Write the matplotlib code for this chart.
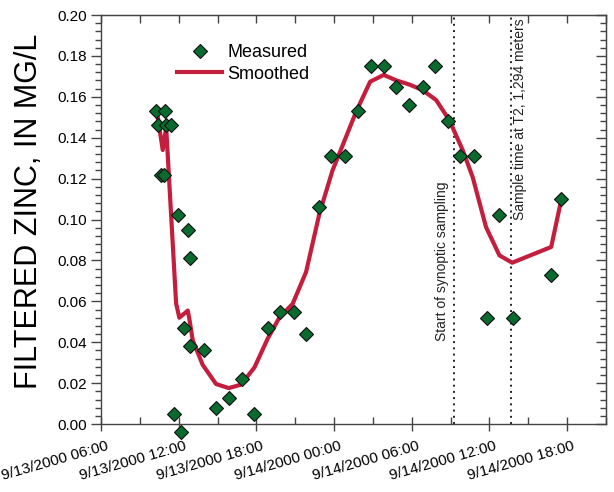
import matplotlib
matplotlib.use("Agg")
import matplotlib.pyplot as plt
import matplotlib.dates as mdates
from matplotlib.ticker import MultipleLocator, FuncFormatter, NullFormatter
from matplotlib.transforms import ScaledTranslation
import pandas as pd

plt.rcParams["font.family"] = ["Liberation Sans", "DejaVu Sans"]

# Filtered zinc samples (mg/L)
measured_time = [
    "2000-09-13 10:17", "2000-09-13 10:26", "2000-09-13 10:38", "2000-09-13 10:54",
    "2000-09-13 10:58", "2000-09-13 11:02", "2000-09-13 11:25", "2000-09-13 11:40",
    "2000-09-13 11:59", "2000-09-13 12:11", "2000-09-13 12:23", "2000-09-13 12:41",
    "2000-09-13 12:53", "2000-09-13 12:54", "2000-09-13 13:59", "2000-09-13 14:53",
    "2000-09-13 15:52", "2000-09-13 16:52", "2000-09-13 17:51", "2000-09-13 18:52",
    "2000-09-13 19:49", "2000-09-13 20:53", "2000-09-13 21:52", "2000-09-13 22:50",
    "2000-09-13 23:46", "2000-09-14 00:50", "2000-09-14 01:50", "2000-09-14 02:50",
    "2000-09-14 03:50", "2000-09-14 04:49", "2000-09-14 05:49", "2000-09-14 06:50",
    "2000-09-14 07:49", "2000-09-14 08:46", "2000-09-14 09:45", "2000-09-14 10:47",
    "2000-09-14 11:49", "2000-09-14 12:46", "2000-09-14 13:47", "2000-09-14 16:46",
    "2000-09-14 17:32",
]
measured_zinc = [
    0.153, 0.146, 0.122, 0.122,
    0.153, 0.146, 0.146, 0.005,
    0.102, -0.004, 0.047, 0.095,
    0.038, 0.081, 0.036, 0.008,
    0.013, 0.022, 0.005, 0.047,
    0.055, 0.055, 0.044, 0.106,
    0.131, 0.131, 0.153, 0.175,
    0.175, 0.165, 0.156, 0.165,
    0.175, 0.148, 0.131, 0.131,
    0.052, 0.102, 0.052, 0.073,
    0.110,
]

# Smoothed concentration curve
smoothed_time = [
    "2000-09-13 10:18", "2000-09-13 10:46", "2000-09-13 11:02", "2000-09-13 11:48",
    "2000-09-13 12:03", "2000-09-13 12:42", "2000-09-13 12:50", "2000-09-13 13:05",
    "2000-09-13 13:51", "2000-09-13 14:53", "2000-09-13 15:52", "2000-09-13 16:49",
    "2000-09-13 17:51", "2000-09-13 18:52", "2000-09-13 19:47", "2000-09-13 20:48",
    "2000-09-13 21:50", "2000-09-13 22:52", "2000-09-13 23:53", "2000-09-14 00:50",
    "2000-09-14 01:42", "2000-09-14 02:47", "2000-09-14 03:50", "2000-09-14 04:49",
    "2000-09-14 05:49", "2000-09-14 06:50", "2000-09-14 07:53", "2000-09-14 08:54",
    "2000-09-14 09:56", "2000-09-14 10:42", "2000-09-14 11:44", "2000-09-14 12:46",
    "2000-09-14 13:45", "2000-09-14 16:46", "2000-09-14 17:32",
]
smoothed_zinc = [
    0.1535, 0.134, 0.145, 0.059,
    0.052, 0.0555, 0.051, 0.041,
    0.029, 0.0196, 0.0176, 0.0193,
    0.0277, 0.0417, 0.0522, 0.0588,
    0.0743, 0.1029, 0.1241, 0.139,
    0.1527, 0.1674, 0.1707, 0.168,
    0.166, 0.1633, 0.1584, 0.1486,
    0.1339, 0.1208, 0.0963, 0.0825,
    0.0789, 0.0866, 0.1094,
]

event_time = ["2000-09-14 09:17", "2000-09-14 13:42"]
event_label = ["Start of synoptic sampling", "Sample time at T2, 1,294 meters"]
event_label_y = [0.0408, 0.0996]

x_start, x_end = "2000-09-13 06:00", "2000-09-14 21:00"
last_label = "2000-09-14 18:00"

mt = pd.to_datetime(measured_time)
st = pd.to_datetime(smoothed_time)
et = pd.to_datetime(event_time)

fig = plt.figure(figsize=(6.14, 4.92), dpi=100)
ax = fig.add_axes([0.1645, 0.138, 0.8225, 0.8315])

green = "#0b6b2e"
red = "#c41e3e"
axis_color = "#444444"

line_h, = ax.plot(st, smoothed_zinc, color=red, lw=3.0, label="Smoothed", zorder=2)
pts_h, = ax.plot(mt, measured_zinc, ls="none", marker="D", ms=7, mfc=green,
                 mec="#111111", mew=0.8, label="Measured", zorder=3, clip_on=False)

# Event markers with rotated captions beside them
for t, lbl, y, dx in zip(et, event_label, event_label_y, [-12, 9]):
    ax.axvline(t, color="#222222", ls=(0, (1, 2.2)), lw=1.4, zorder=1)
    ax.text(t, y, lbl, rotation=90, ha="center", va="bottom", fontsize=10,
            color="#222222",
            transform=ax.transData + ScaledTranslation(dx / 100, 0, fig.dpi_scale_trans))

ax.set_xlim(pd.Timestamp(x_start), pd.Timestamp(x_end))
ax.set_ylim(0, 0.20)

ax.xaxis.set_major_locator(mdates.HourLocator(byhour=[0, 6, 12, 18]))
ax.xaxis.set_minor_locator(mdates.HourLocator(byhour=[3, 9, 15, 21]))
last_num = mdates.date2num(pd.Timestamp(last_label))


def fmt_date(x, pos):
    if x > last_num + 1e-6:
        return ""
    d = mdates.num2date(x)
    return f"{d.month}/{d.day}/{d.year} {d:%H:%M}"


ax.xaxis.set_major_formatter(FuncFormatter(fmt_date))
ax.yaxis.set_major_locator(MultipleLocator(0.02))
ax.yaxis.set_minor_locator(MultipleLocator(0.004))
ax.yaxis.set_major_formatter(FuncFormatter(lambda v, p: f"{v:.2f}"))

for s in ax.spines.values():
    s.set_color(axis_color)
    s.set_linewidth(1.0)

ax.tick_params(axis="x", which="major", direction="inout", length=10, width=1,
               color=axis_color, top=False, labelsize=11, pad=2)
ax.tick_params(axis="x", which="minor", direction="in", length=5, width=1,
               color=axis_color, top=False)
ax.tick_params(axis="y", which="major", direction="out", length=7, width=1,
               color=axis_color, labelsize=11, pad=3, right=False)
ax.tick_params(axis="y", which="minor", direction="out", length=4, width=1,
               color=axis_color, right=False)

# Inward ticks along the top and right frame
top = ax.secondary_xaxis("top")
top.xaxis.set_major_locator(mdates.HourLocator(byhour=[0, 6, 12, 18]))
top.xaxis.set_minor_locator(mdates.HourLocator(byhour=[3, 9, 15, 21]))
top.xaxis.set_major_formatter(NullFormatter())
top.tick_params(which="major", direction="in", length=6, width=1, color=axis_color)
top.tick_params(which="minor", direction="in", length=6, width=1, color=axis_color)
top.spines["top"].set_color(axis_color)

right = ax.secondary_yaxis("right")
right.yaxis.set_major_locator(MultipleLocator(0.02))
right.yaxis.set_minor_locator(MultipleLocator(0.004))
right.yaxis.set_major_formatter(NullFormatter())
right.tick_params(which="major", direction="in", length=7, width=1, color=axis_color)
right.tick_params(which="minor", direction="in", length=4, width=1, color=axis_color)
right.spines["right"].set_color(axis_color)

shift = ScaledTranslation(5 / 100, -5 / 100, fig.dpi_scale_trans)
for lbl in ax.get_xticklabels():
    lbl.set_rotation(16)
    lbl.set_ha("right")
    lbl.set_rotation_mode("anchor")
    lbl.set_transform(lbl.get_transform() + shift)

ax.set_ylabel("FILTERED ZINC, IN MG/L", fontsize=22, labelpad=6)
ax.yaxis.set_label_coords(-0.113, 0.52)

ax.legend([pts_h, line_h], ["Measured", "Smoothed"], loc="upper left",
          bbox_to_anchor=(177 / 614, 1 - 44 / 492), bbox_transform=fig.transFigure,
          frameon=False, fontsize=13, handlelength=2.5, handletextpad=0.3,
          borderpad=0, borderaxespad=0, labelspacing=0.25)

fig.savefig("out.png", dpi=100)
